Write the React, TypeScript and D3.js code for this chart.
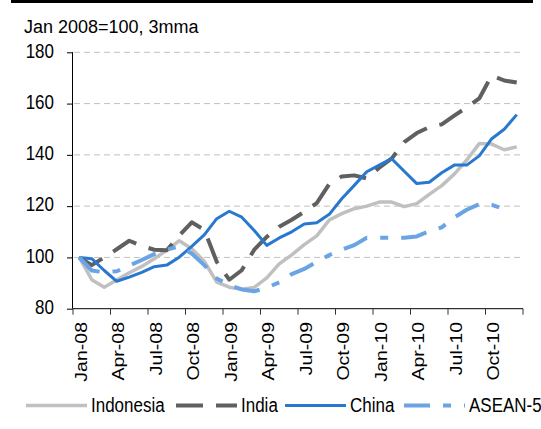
import React, { useEffect, useRef } from "react";
import * as d3 from "d3";

// monthly index, Jan 2008 = 100 (3mma)
const months = [
  "Jan-08", "Feb-08", "Mar-08", "Apr-08", "May-08", "Jun-08", "Jul-08", "Aug-08", "Sep-08", "Oct-08", "Nov-08", "Dec-08",
  "Jan-09", "Feb-09", "Mar-09", "Apr-09", "May-09", "Jun-09", "Jul-09", "Aug-09", "Sep-09", "Oct-09", "Nov-09", "Dec-09",
  "Jan-10", "Feb-10", "Mar-10", "Apr-10", "May-10", "Jun-10", "Jul-10", "Aug-10", "Sep-10", "Oct-10", "Nov-10", "Dec-10",
];
const xTickLabels = ["Jan-08", "Apr-08", "Jul-08", "Oct-08", "Jan-09", "Apr-09", "Jul-09", "Oct-09", "Jan-10", "Apr-10", "Jul-10", "Oct-10"];
const yTicks = [80, 100, 120, 140, 160, 180];

const indonesia = [
  100, 91.3, 88.4, 91.2, 94, 96.5, 99.5, 102.8, 106.5, 103.4, 98.5, 90.4,
  88.4, 87.6, 88.3, 92, 97.5, 101, 105, 108.4, 114.6, 117.1, 119, 120,
  121.6, 121.6, 119.8, 121, 124.6, 128, 132.5, 138, 144.4, 144.2, 142, 143.1,
];
const india = [
  100, 97, 100, 103.2, 106.5, 104.5, 103, 102.8, 108.5, 113.7, 110.8, 98.3,
  91.3, 95, 103, 108, 112, 114.7, 117.8, 121.2, 128.6, 131.6, 132, 130.8,
  135, 138.6, 145, 148.5, 150.8, 151.9, 155.3, 158.5, 162, 171, 169, 168.2,
];
const china = [
  100, 99.5, 94.9, 90.7, 92.3, 94.2, 96.4, 97, 100.1, 104.3, 108.8, 115.1,
  118, 115.7, 110.5, 104.7, 107.6, 110, 113, 113.5, 116.8, 122.9, 128.1, 133.4,
  136, 138.5, 133.6, 128.8, 129.3, 133, 136, 136, 139.6, 146.3, 150, 155.7,
];
const asean5 = [
  100, 94.9, 94.2, 94.6, 96.8, 99, 101.3, 103, 104.3, 101.5, 97, 91.8,
  89.2, 87.5, 86.8, 88.2, 90.3, 93.5, 95.5, 98.3, 100.9, 103, 104.8, 107.7,
  107.7, 107.7, 107.7, 108.2, 110.2, 111.7, 115.6, 118.6, 120.8, 120.5, 118.8, null,
];

const seriesNames = ["Indonesia", "India", "China", "ASEAN-5"];

export default function App() {
  const ref = useRef<SVGSVGElement>(null);

  useEffect(() => {
    const svg = d3.select(ref.current);
    svg.selectAll("*").remove();
    const font = "'Liberation Sans', Arial, sans-serif";

    const series = [
      { name: seriesNames[0], values: indonesia, color: "#c0c0c0", width: 3.5, dash: null },
      { name: seriesNames[1], values: india, color: "#606060", width: 4, dash: "27 13" },
      { name: seriesNames[2], values: china, color: "#2878d0", width: 3, dash: null },
      { name: seriesNames[3], values: asean5, color: "#6aa4e4", width: 4, dash: "26 13 8 13" },
    ];

    const x = d3.scaleBand<string>().domain(months).range([73, 523]).padding(0);
    const y = d3.scaleLinear().domain([80, 180]).range([308.7, 52.3]);
    const cx = (m: string) => (x(m) as number) + x.bandwidth() / 2;

    // top rule
    svg.append("rect").attr("x", 11).attr("y", 0).attr("width", 522).attr("height", 3).attr("fill", "#000");

    svg.append("text").attr("x", 24).attr("y", 33).attr("font-family", font).attr("font-size", 18)
      .attr("fill", "#000").text("Jan 2008=100, 3mma");

    // gridlines
    svg.append("g").selectAll("line").data(yTicks.filter((t) => t > 80)).join("line")
      .attr("x1", 74).attr("x2", 523).attr("y1", (d) => y(d)).attr("y2", (d) => y(d))
      .attr("stroke", "#c0c0c0").attr("stroke-dasharray", "6 4");

    // y axis
    const yAxis = svg.append("g").attr("transform", "translate(73,0)")
      .call(d3.axisLeft(y).tickValues(yTicks).tickSize(6).tickFormat(() => ""));
    yAxis.select(".domain").attr("stroke", "#000").attr("d", `M-0.5,${y(180)}V${y(80)}`);
    yAxis.selectAll(".tick line").attr("stroke", "#000");

    svg.append("g").selectAll("text").data(yTicks).join("text")
      .attr("transform", (d) => `translate(54,${y(d) - 1.5}) scale(1,1.15)`)
      .attr("text-anchor", "end").attr("dy", "0.35em")
      .attr("font-family", font).attr("font-size", 17).attr("fill", "#000")
      .text((d) => d);

    // x axis
    const xTickPos = months.filter((_, i) => i % 3 === 0).map((m) => x(m) as number).concat([523]);
    const xAxis = svg.append("g");
    xAxis.append("line").attr("x1", 73).attr("x2", 523).attr("y1", y(80)).attr("y2", y(80)).attr("stroke", "#000");
    xAxis.selectAll("line.tick").data(xTickPos).join("line").attr("class", "tick")
      .attr("x1", (d) => d).attr("x2", (d) => d).attr("y1", y(80)).attr("y2", y(80) + 6)
      .attr("stroke", "#333");
    xAxis.selectAll("text").data(xTickLabels).join("text")
      .attr("transform", (d) => `translate(${cx(d) + 1.5},${322}) scale(1,1.15) rotate(-90)`)
      .attr("text-anchor", "end").attr("dy", "0.35em")
      .attr("font-family", font).attr("font-size", 17).attr("fill", "#000")
      .text((d) => d);

    // lines
    const line = d3.line<number | null>()
      .defined((d) => d != null)
      .x((_, i) => cx(months[i]))
      .y((d) => y(d as number));

    svg.append("g").selectAll("path").data(series).join("path")
      .attr("d", (s) => line(s.values))
      .attr("fill", "none")
      .attr("stroke", (s) => s.color)
      .attr("stroke-width", (s) => s.width)
      .attr("stroke-dasharray", (s) => s.dash)
      .attr("stroke-linejoin", "round");

    // legend
    const legendX = [26, 176, 285, 404];
    const lg = svg.append("g").selectAll("g").data(series).join("g")
      .attr("transform", (_, i) => `translate(${legendX[i]},405.5)`);
    lg.append("line").attr("x1", 0).attr("x2", 61).attr("y1", 0).attr("y2", 0)
      .attr("stroke", (s) => s.color).attr("stroke-width", (s) => s.width)
      .attr("stroke-dasharray", (s) => s.dash);
    lg.append("text").attr("transform", "translate(65,0) scale(1,1.15)").attr("dy", "0.35em")
      .attr("font-family", font).attr("font-size", 17).attr("fill", "#000")
      .text((s) => s.name);
  }, []);

  return (
    <svg ref={ref} width={541} height={429}
      style={{ position: "absolute", left: 0, top: 0, background: "#fff" }} />
  );
}
